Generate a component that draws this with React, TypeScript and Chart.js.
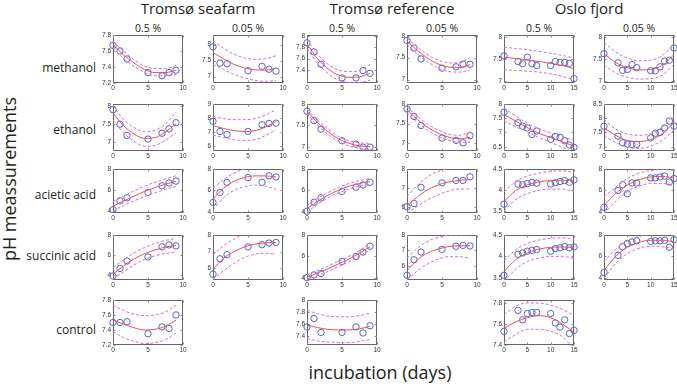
import React, { useEffect, useRef } from 'react';
import { Chart, registerables } from 'chart.js';
Chart.register(...registerables);

// ---------- data ----------
const columnTitles = ['Tromsø seafarm', 'Tromsø reference', 'Oslo fjord'];
const concentrations = ['0.5 %', '0.05 %', '0.5 %', '0.05 %', '0.5 %', '0.05 %'];
const treatments = ['methanol', 'ethanol', 'acietic acid', 'succinic acid', 'control'];

const tromsoDays = [0, 1, 2, 5, 7, 8, 9];
const osloDays = [0, 3, 4, 5, 6, 7, 10, 11, 12, 13, 14, 15];
const tromsoFitDays = [0, 1.5, 3, 4.5, 6, 7.5, 9];
const osloFitDays = [0, 2.5, 5, 7.5, 10, 12.5, 15];
const tromsoXTicks = [0, 5, 10];
const osloXTicks = [0, 5, 10, 15];

// methanol
const methanolPoints = [
  [7.67, 7.6, 7.5, 7.33, 7.29, 7.33, 7.36],
  [7.93, 7.42, 7.4, 7.18, 7.32, 7.23, 7.17],
  [7.88, 7.72, 7.5, 7.26, 7.26, 7.39, 7.34],
  [7.89, 7.72, 7.47, 7.26, 7.29, 7.35, 7.35],
  [7.57, 7.44, 7.39, 7.54, 7.39, 7.35, 7.35, 7.44, 7.42, 7.42, 7.4, 7.05],
  [7.62, 7.41, 7.24, 7.26, 7.37, 7.3, 7.23, 7.23, 7.32, 7.45, 7.47, 7.75],
];
const methanolFit = [
  [7.68, 7.55, 7.45, 7.37, 7.33, 7.33, 7.36],
  [7.75, 7.55, 7.38, 7.27, 7.21, 7.2, 7.25],
  [7.86, 7.6, 7.42, 7.31, 7.27, 7.28, 7.34],
  [7.88, 7.66, 7.48, 7.35, 7.28, 7.27, 7.34],
  [7.54, 7.51, 7.48, 7.44, 7.4, 7.35, 7.28],
  [7.62, 7.42, 7.3, 7.25, 7.26, 7.35, 7.6],
];
const methanolUpper = [
  [7.72, 7.6, 7.49, 7.41, 7.38, 7.38, 7.42],
  [8.12, 7.88, 7.7, 7.58, 7.54, 7.56, 7.65],
  [7.93, 7.68, 7.5, 7.4, 7.37, 7.39, 7.5],
  [7.95, 7.74, 7.56, 7.44, 7.38, 7.38, 7.5],
  [7.77, 7.74, 7.71, 7.67, 7.63, 7.58, 7.52],
  [7.88, 7.66, 7.52, 7.46, 7.47, 7.58, 7.85],
];
const methanolLower = [
  [7.63, 7.51, 7.41, 7.33, 7.29, 7.29, 7.31],
  [7.38, 7.22, 7.07, 6.96, 6.88, 6.85, 6.88],
  [7.78, 7.52, 7.34, 7.22, 7.18, 7.18, 7.22],
  [7.8, 7.58, 7.4, 7.26, 7.18, 7.17, 7.22],
  [7.25, 7.24, 7.22, 7.2, 7.16, 7.1, 7.02],
  [7.36, 7.18, 7.08, 7.04, 7.05, 7.13, 7.38],
];
const methanolYRange = [[7.2, 7.8], [6.8, 8.3], [7.17, 8.02], [6.92, 8.02], [6.95, 8.05], [6.95, 8.05]];
const methanolYTicks = [[7.2, 7.4, 7.6, 7.8], [7, 7.5, 8], [7.4, 7.6, 7.8, 8], [7, 7.5, 8], [7, 7.5, 8], [7, 7.5, 8]];

// ethanol
const ethanolPoints = [
  [7.89, 7.49, 7.18, 7.08, 7.24, 7.36, 7.53],
  [7.76, 7.04, 6.83, 7.04, 7.52, 7.61, 7.63],
  [7.83, 7.61, 7.41, 7.14, 7.06, 6.99, 6.99],
  [7.87, 7.68, 7.45, 7.13, 7.07, 7.01, 7.19],
  [7.71, 7.34, 7.22, 7.16, 6.93, 7.05, 6.76, 6.86, 6.83, 6.71, 6.56, 6.48],
  [7.72, 7.37, 7.14, 7.09, 7.08, 7.08, 7.31, 7.47, 7.5, 7.66, 7.9, 7.72],
];
const ethanolFit = [
  [7.8, 7.45, 7.22, 7.1, 7.12, 7.28, 7.5],
  [7.45, 7.25, 7.1, 7.04, 7.1, 7.35, 7.75],
  [7.83, 7.56, 7.35, 7.18, 7.08, 7.02, 7.0],
  [7.85, 7.6, 7.4, 7.25, 7.15, 7.11, 7.15],
  [7.62, 7.4, 7.17, 6.97, 6.82, 6.67, 6.52],
  [7.66, 7.4, 7.22, 7.18, 7.25, 7.45, 7.85],
];
const ethanolUpper = [
  [8.0, 7.62, 7.4, 7.28, 7.32, 7.5, 7.82],
  [8.1, 7.95, 7.88, 7.88, 7.95, 8.2, 8.6],
  [7.88, 7.62, 7.41, 7.24, 7.14, 7.09, 7.08],
  [7.92, 7.68, 7.48, 7.33, 7.23, 7.2, 7.28],
  [7.85, 7.58, 7.32, 7.13, 6.98, 6.85, 6.72],
  [7.95, 7.62, 7.45, 7.4, 7.46, 7.68, 8.12],
];
const ethanolLower = [
  [7.6, 7.25, 7.02, 6.88, 6.9, 7.05, 7.25],
  [6.78, 6.6, 6.45, 6.4, 6.45, 6.75, 7.15],
  [7.77, 7.5, 7.29, 7.12, 7.02, 6.96, 6.93],
  [7.78, 7.52, 7.32, 7.17, 7.07, 7.02, 7.02],
  [7.4, 7.2, 7.02, 6.82, 6.65, 6.48, 6.3],
  [7.38, 7.15, 6.98, 6.94, 7.02, 7.22, 7.58],
];
const ethanolYRange = [[6.75, 8.05], [5.65, 9.0], [6.9, 8.0], [6.8, 8.0], [6.35, 8.0], [6.85, 8.5]];
const ethanolYTicks = [[7, 7.5, 8], [6, 7, 8, 9], [7, 7.5, 8], [7, 7.5, 8], [6.5, 7, 7.5, 8], [7, 7.5, 8, 8.5]];

// acietic acid
const acieticPoints = [
  [4.12, 4.96, 5.25, 5.76, 6.39, 6.66, 6.84],
  [4.88, 5.8, 6.75, 7.19, 6.75, 7.36, 7.25],
  [4.06, 4.9, 5.31, 5.91, 6.3, 6.51, 6.75],
  [6.03, 6.2, 7.04, 7.27, 7.4, 7.4, 7.59],
  [3.66, 4.14, 4.12, 4.15, 4.18, 4.16, 4.14, 4.17, 4.2, 4.22, 4.18, 4.24],
  [4.44, 6.0, 6.53, 5.69, 6.69, 6.69, 7.16, 7.16, 7.25, 7.34, 6.78, 7.1],
];
const acieticFit = [
  [4.45, 4.95, 5.4, 5.85, 6.22, 6.55, 6.82],
  [5.2, 6.2, 6.85, 7.2, 7.35, 7.35, 7.25],
  [4.3, 4.98, 5.55, 6.02, 6.38, 6.65, 6.82],
  [6.05, 6.55, 6.92, 7.17, 7.32, 7.4, 7.45],
  [3.72, 3.98, 4.12, 4.19, 4.22, 4.23, 4.21],
  [4.6, 5.7, 6.5, 7.0, 7.25, 7.3, 7.15],
];
const acieticUpper = [
  [4.9, 5.4, 5.9, 6.35, 6.72, 7.05, 7.35],
  [6.2, 7.0, 7.6, 8.0, 8.2, 8.3, 8.3],
  [4.6, 5.25, 5.8, 6.28, 6.65, 6.92, 7.1],
  [6.55, 7.15, 7.6, 7.88, 8.02, 8.08, 8.1],
  [3.95, 4.2, 4.33, 4.4, 4.44, 4.45, 4.42],
  [5.4, 6.3, 7.1, 7.6, 7.85, 7.95, 7.85],
];
const acieticLower = [
  [4.0, 4.5, 4.95, 5.35, 5.72, 6.05, 6.32],
  [4.2, 5.3, 6.0, 6.35, 6.5, 6.4, 6.1],
  [3.98, 4.7, 5.3, 5.76, 6.12, 6.4, 6.52],
  [5.7, 6.05, 6.4, 6.65, 6.85, 6.95, 6.95],
  [3.5, 3.77, 3.91, 3.99, 4.02, 4.02, 3.96],
  [3.85, 5.0, 5.9, 6.4, 6.65, 6.65, 6.45],
];
const acieticYRange = [[3.8, 8.0], [3.9, 8.0], [3.9, 8.0], [5.7, 8.0], [3.45, 4.5], [3.9, 8.0]];
const acieticYTicks = [[4, 6, 8], [4, 6, 8], [4, 6, 8], [6, 7, 8], [3.5, 4, 4.5], [4, 6, 8]];

// succinic acid
const succinicPoints = [
  [3.9, 4.65, 5.4, 5.8, 6.8, 7.0, 6.9],
  [5.65, 6.57, 6.82, 7.28, 7.41, 7.51, 7.55],
  [4.02, 4.27, 4.4, 5.53, 5.98, 6.4, 6.95],
  [5.4, 6.4, 6.9, 7.07, 7.27, 7.33, 7.29],
  [3.56, 4.05, 4.08, 4.12, 4.14, 4.16, 4.12, 4.18, 4.2, 4.23, 4.2, 4.22],
  [4.5, 6.1, 6.9, 7.2, 7.35, 7.45, 7.4, 7.45, 7.45, 7.5, 6.85, 7.55],
];
const succinicFit = [
  [4.1, 4.9, 5.6, 6.12, 6.5, 6.78, 6.95],
  [5.95, 6.6, 7.0, 7.28, 7.45, 7.52, 7.55],
  [4.05, 4.45, 4.85, 5.3, 5.75, 6.3, 6.9],
  [5.7, 6.4, 6.85, 7.1, 7.25, 7.3, 7.3],
  [3.65, 3.92, 4.08, 4.17, 4.21, 4.22, 4.2],
  [4.7, 6.0, 6.85, 7.3, 7.5, 7.5, 7.35],
];
const succinicUpper = [
  [4.75, 5.5, 6.2, 6.75, 7.15, 7.45, 7.65],
  [6.8, 7.35, 7.75, 8.05, 8.1, 8.1, 8.1],
  [4.3, 4.7, 5.1, 5.55, 6.0, 6.55, 7.2],
  [6.5, 7.15, 7.6, 7.85, 7.98, 8.0, 8.0],
  [3.9, 4.15, 4.3, 4.38, 4.42, 4.43, 4.4],
  [5.5, 6.65, 7.45, 7.85, 8.05, 8.1, 8.0],
];
const succinicLower = [
  [3.6, 4.3, 5.0, 5.55, 5.92, 6.15, 6.25],
  [5.35, 5.85, 6.3, 6.65, 6.85, 6.9, 6.85],
  [3.8, 4.2, 4.6, 5.05, 5.5, 6.05, 6.6],
  [5.1, 5.7, 6.15, 6.45, 6.6, 6.6, 6.5],
  [3.42, 3.7, 3.88, 3.96, 4.0, 4.0, 3.95],
  [3.95, 5.35, 6.25, 6.75, 6.95, 6.9, 6.7],
];
const succinicYRange = [[3.5, 8.0], [5.3, 8.0], [3.8, 8.0], [5.1, 8.0], [3.45, 4.5], [3.8, 8.0]];
const succinicYTicks = [[4, 6, 8], [6, 7, 8], [4, 6, 8], [6, 7, 8], [3.5, 4, 4.5], [4, 6, 8]];

// control (only 0.5 % columns)
const controlPoints = [
  [7.5, 7.5, 7.51, 7.35, 7.44, 7.42, 7.6], null,
  [7.55, 7.69, 7.46, 7.46, 7.55, 7.45, 7.57], null,
  [7.53, 7.73, 7.64, 7.7, 7.71, 7.71, 7.7, 7.61, 7.57, 7.64, 7.51, 7.54], null,
];
const controlFit = [
  [7.53, 7.48, 7.43, 7.4, 7.41, 7.45, 7.53], null,
  [7.58, 7.54, 7.51, 7.5, 7.5, 7.52, 7.56], null,
  [7.56, 7.62, 7.66, 7.68, 7.66, 7.6, 7.52], null,
];
const controlUpper = [
  [7.73, 7.66, 7.61, 7.59, 7.6, 7.64, 7.73], null,
  [7.83, 7.77, 7.73, 7.72, 7.72, 7.74, 7.78], null,
  [7.69, 7.77, 7.8, 7.8, 7.78, 7.74, 7.68], null,
];
const controlLower = [
  [7.38, 7.3, 7.25, 7.22, 7.23, 7.27, 7.36], null,
  [7.36, 7.32, 7.3, 7.29, 7.29, 7.31, 7.34], null,
  [7.43, 7.5, 7.55, 7.55, 7.53, 7.48, 7.36], null,
];
const controlYRange = [[7.2, 7.8], null, [7.25, 8.0], null, [7.4, 7.83], null];
const controlYTicks = [[7.2, 7.4, 7.6, 7.8], null, [7.4, 7.6, 7.8, 8], null, [7.4, 7.6, 7.8], null];

// ---------- layout ----------
const COL_LEFT = [113, 213, 307, 407, 504, 604];
const PLOT_W = 70;
const ROW_TOP = [34, 103, 168, 234, 299];
const ROW_BOTTOM = [83, 151, 213, 280, 345];
const Y_W = 22;
const PAD_T = 5;
const PAD_R = 8;
const X_H = 10;

const BLUE = '#5464d6';
const RED = '#f05050';
const MAGENTA = '#d86cd2';

const rows = [
  { pts: methanolPoints, fit: methanolFit, hi: methanolUpper, lo: methanolLower, yr: methanolYRange, yt: methanolYTicks },
  { pts: ethanolPoints, fit: ethanolFit, hi: ethanolUpper, lo: ethanolLower, yr: ethanolYRange, yt: ethanolYTicks },
  { pts: acieticPoints, fit: acieticFit, hi: acieticUpper, lo: acieticLower, yr: acieticYRange, yt: acieticYTicks },
  { pts: succinicPoints, fit: succinicFit, hi: succinicUpper, lo: succinicLower, yr: succinicYRange, yt: succinicYTicks },
  { pts: controlPoints, fit: controlFit, hi: controlUpper, lo: controlLower, yr: controlYRange, yt: controlYTicks },
];

const framePlugin = {
  id: 'frame',
  beforeDatasetsDraw(chart: any) {
    const { ctx, chartArea: a, scales } = chart;
    ctx.save();
    ctx.strokeStyle = '#666';
    ctx.lineWidth = 1;
    const l = Math.round(a.left) + 0.5, t = Math.round(a.top) + 0.5;
    const r = Math.round(a.right) - 0.5, b = Math.round(a.bottom) - 0.5;
    ctx.strokeRect(l, t, r - l, b - t);
    ctx.strokeStyle = '#888';
    ctx.beginPath();
    scales.x.ticks.forEach((tk: any) => {
      const px = Math.round(scales.x.getPixelForValue(tk.value)) + 0.5;
      ctx.moveTo(px, b); ctx.lineTo(px, b - 2);
      ctx.moveTo(px, t); ctx.lineTo(px, t + 2);
    });
    scales.y.ticks.forEach((tk: any) => {
      const py = Math.round(scales.y.getPixelForValue(tk.value)) + 0.5;
      ctx.moveTo(l, py); ctx.lineTo(l + 2, py);
      ctx.moveTo(r, py); ctx.lineTo(r - 2, py);
    });
    ctx.stroke();
    ctx.restore();
  },
};

const zip = (xs: number[], ys: number[]) => xs.map((x, i) => ({ x, y: ys[i] }));

function Panel(props: { r: number; c: number }) {
  const { r, c } = props;
  const ref = useRef<HTMLCanvasElement | null>(null);
  const row = rows[r];
  const oslo = c >= 4;
  const days = oslo ? osloDays : tromsoDays;
  const fitDays = oslo ? osloFitDays : tromsoFitDays;
  const xTicks = oslo ? osloXTicks : tromsoXTicks;
  const plotH = ROW_BOTTOM[r] - ROW_TOP[r];
  const w = Y_W + PLOT_W + PAD_R;
  const h = PAD_T + plotH + X_H;

  useEffect(() => {
    if (!ref.current) return;
    const [yMin, yMax] = row.yr[c] as number[];
    const yTicks = row.yt[c] as number[];
    const lineBase = { pointRadius: 0, borderWidth: 1, cubicInterpolationMode: 'monotone' as const, fill: false };
    const chart = new Chart(ref.current, {
      type: 'line',
      data: {
        datasets: [
          { ...lineBase, data: zip(fitDays, row.hi[c] as number[]), borderColor: MAGENTA, borderDash: [3, 2] },
          { ...lineBase, data: zip(fitDays, row.lo[c] as number[]), borderColor: MAGENTA, borderDash: [3, 2] },
          { ...lineBase, data: zip(fitDays, row.fit[c] as number[]), borderColor: RED },
          {
            data: zip(days, row.pts[c] as number[]), showLine: false, pointRadius: 3.2, pointBorderWidth: 1,
            pointBorderColor: BLUE, pointBackgroundColor: 'rgba(0,0,0,0)', borderColor: BLUE, clip: false as any,
          },
        ],
      },
      options: {
        animation: false,
        responsive: false,
        events: [],
        layout: { padding: { top: PAD_T, right: PAD_R, left: 0, bottom: 0 } },
        plugins: { legend: { display: false }, tooltip: { enabled: false } },
        scales: {
          x: {
            type: 'linear', min: 0, max: oslo ? 15 : 10,
            grid: { display: false, drawTicks: false }, border: { display: false },
            ticks: { font: { size: 6.5, family: 'Liberation Sans, Arial' }, color: '#333', padding: 1, maxRotation: 0, autoSkip: false },
            afterBuildTicks: (s: any) => { s.ticks = xTicks.map((v) => ({ value: v })); },
            afterFit: (s: any) => { s.height = X_H; },
          },
          y: {
            type: 'linear', min: yMin, max: yMax,
            grid: { display: false, drawTicks: false }, border: { display: false },
            ticks: { font: { size: 6.5, family: 'Liberation Sans, Arial' }, color: '#333', padding: 2, autoSkip: false, callback: (v: any) => String(v) },
            afterBuildTicks: (s: any) => { s.ticks = yTicks.map((v) => ({ value: v })); },
            afterFit: (s: any) => { s.width = Y_W; },
          },
        },
      } as any,
      plugins: [framePlugin],
    });
    return () => chart.destroy();
  }, [r, c]);

  return (
    <canvas
      ref={ref}
      width={w}
      height={h}
      style={{ position: 'absolute', left: COL_LEFT[c] - Y_W, top: ROW_TOP[r] - PAD_T, width: w, height: h }}
    />
  );
}

const ROW_LABEL_Y = [68, 130, 195, 256, 330];
const TITLE_X = [198, 392, 589];

export default function App() {
  const panels: React.ReactNode[] = [];
  rows.forEach((row, r) => {
    for (let c = 0; c < 6; c++) {
      if (row.pts[c]) panels.push(<Panel key={`${r}-${c}`} r={r} c={c} />);
    }
  });
  const sans = '"Open Sans", "Noto Sans", sans-serif';
  return (
    <div style={{ position: 'fixed', left: 0, top: 0, width: 677, height: 387, background: '#fff', overflow: 'hidden', fontFamily: sans, color: '#231f20' }}>
      {columnTitles.map((t, i) => (
        <div key={t} style={{ position: 'absolute', left: TITLE_X[i] - 100, top: 0, width: 200, textAlign: 'center', fontSize: 15, lineHeight: '17px' }}>{t}</div>
      ))}
      {concentrations.map((t, i) => (
        <div key={i} style={{ position: 'absolute', left: COL_LEFT[i] + PLOT_W / 2 - 40, top: 22, width: 80, textAlign: 'center', fontSize: 10.5, lineHeight: '13px' }}>{t}</div>
      ))}
      {treatments.map((t, i) => (
        <div key={t} style={{ position: 'absolute', left: 0, width: 96, top: ROW_LABEL_Y[i] - 9, textAlign: 'right', fontSize: 12, lineHeight: '18px' }}>{t}</div>
      ))}
      <div style={{ position: 'absolute', left: 9 - 100, top: 179 - 12, width: 200, height: 24, textAlign: 'center', fontSize: 18, lineHeight: '24px', transform: 'rotate(-90deg)' }}>pH meassurements</div>
      <div style={{ position: 'absolute', left: 380 - 120, top: 360, width: 240, textAlign: 'center', fontSize: 18, lineHeight: '24px' }}>incubation (days)</div>
      {panels}
    </div>
  );
}
